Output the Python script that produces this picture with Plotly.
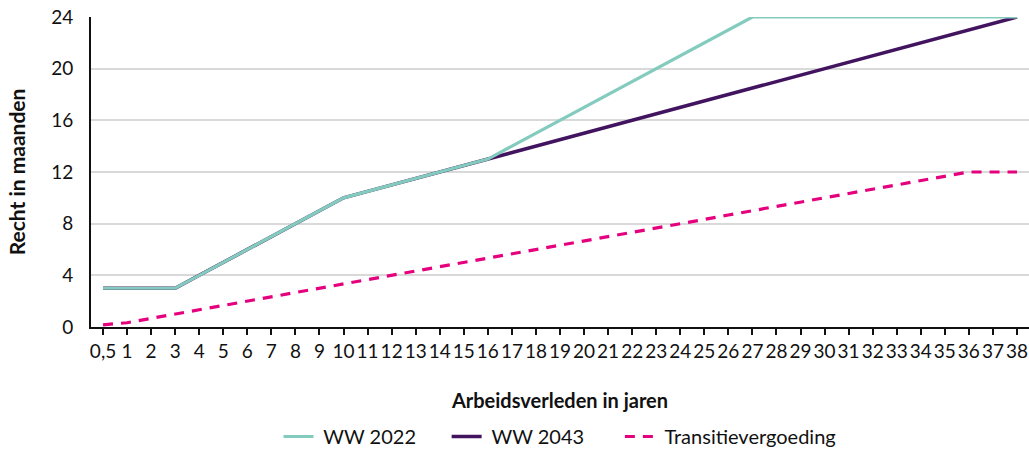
import plotly.graph_objects as go

categories = ["0,5", "1", "2", "3", "4", "5", "6", "7", "8", "9", "10", "11", "12", "13",
              "14", "15", "16", "17", "18", "19", "20", "21", "22", "23", "24", "25", "26",
              "27", "28", "29", "30", "31", "32", "33", "34", "35", "36", "37", "38"]

ww2022 = [3, 3, 3, 3, 4, 5, 6, 7, 8, 9, 10, 10.5, 11, 11.5, 12, 12.5, 13, 14, 15, 16, 17,
          18, 19, 20, 21, 22, 23, 24, 24, 24, 24, 24, 24, 24, 24, 24, 24, 24, 24]

ww2043 = [3, 3, 3, 3, 4, 5, 6, 7, 8, 9, 10, 10.5, 11, 11.5, 12, 12.5, 13, 13.5, 14, 14.5,
          15, 15.5, 16, 16.5, 17, 17.5, 18, 18.5, 19, 19.5, 20, 20.5, 21, 21.5, 22, 22.5,
          23, 23.5, 24]

transitie = [0.17, 0.33, 0.67, 1, 1.33, 1.67, 2, 2.33, 2.67, 3, 3.33, 3.67, 4, 4.33, 4.67,
             5, 5.33, 5.67, 6, 6.33, 6.67, 7, 7.33, 7.67, 8, 8.33, 8.67, 9, 9.33, 9.67, 10,
             10.33, 10.67, 11, 11.33, 11.67, 12, 12, 12]

y_ticks = [0, 4, 8, 12, 16, 20, 24]

FONT = "Lato"
NB = "\u00a0"

fig = go.Figure()
fig.add_trace(go.Scatter(x=categories, y=ww2043, mode="lines", name=NB + "WW 2043" + NB * 6,
                         line=dict(color="#42145f", width=3.5), legendrank=2))
fig.add_trace(go.Scatter(x=categories, y=ww2022, mode="lines", name=NB + "WW 2022" + NB * 5,
                         line=dict(color="#84cbbf", width=3.2), legendrank=1))
fig.add_trace(go.Scatter(x=categories, y=transitie, mode="lines",
                         name=NB + "Transitievergoeding",
                         line=dict(color="#e5007d", width=3.2, dash="10px,8px"), legendrank=3))

fig.update_layout(
    width=1029, height=456,
    margin=dict(l=91, r=0, t=17, b=129),
    paper_bgcolor="white", plot_bgcolor="white",
    font=dict(family=FONT, size=19, color="#111111"),
    showlegend=True,
    legend=dict(orientation="h", x=0.5, xanchor="center", yref="container", y=-0.014,
                yanchor="bottom", font=dict(family=FONT, size=20), traceorder="normal"),
    xaxis=dict(
        type="category", range=[-0.5, 38.5], automargin=False,
        showline=True, linecolor="#111111", linewidth=2,
        ticks="outside", ticklen=6, tickcolor="#111111", tickwidth=1.5,
        showgrid=False, tickangle=0, ticklabelstandoff=0,
        tickfont=dict(family=FONT, size=19),
        title=dict(text="<b>Arbeidsverleden in jaren</b>", font=dict(family=FONT, size=20),
                   standoff=33),
    ),
    yaxis=dict(
        range=[0, 24], tickvals=y_ticks, automargin=False,
        showline=True, linecolor="#111111", linewidth=2,
        showgrid=True, gridcolor="#d9d9d9", gridwidth=1.5,
        zeroline=False, ticks="", ticklabelstandoff=12,
        tickfont=dict(family=FONT, size=19),
        title=dict(text="<b>Recht in maanden</b>", font=dict(family=FONT, size=21),
                   standoff=20),
    ),
)

fig.write_html(
    "out.html",
    config={"displayModeBar": False},
    post_script="document.body.style.margin='0';document.body.style.overflow='hidden';",
)
